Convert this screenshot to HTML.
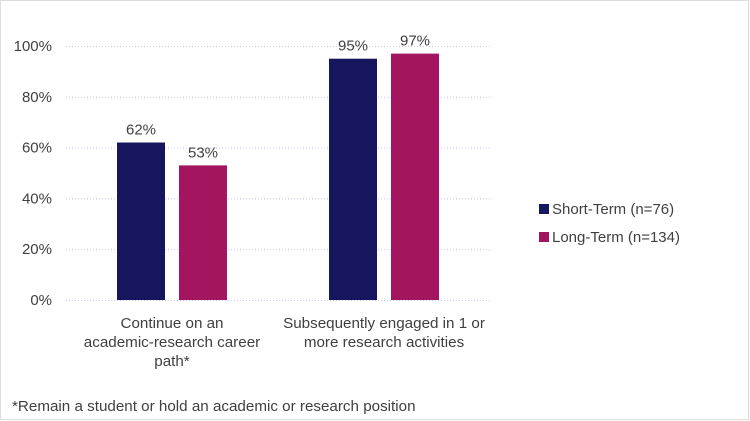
<!DOCTYPE html>
<html><head><meta charset="utf-8"><style>
body{margin:0;background:#fff}
svg{display:block;font-family:"Liberation Sans",sans-serif}
</style></head><body>
<svg id="c" width="750" height="421">
<rect x="0.5" y="0.5" width="748" height="419" fill="#fff" stroke="#bbb" stroke-dasharray="1,1"/>
<g id="grid"></g><g id="bars"></g><g id="labels"></g>
<g>
<rect x="539" y="204" width="10" height="10" fill="#16165e"/>
<text x="552" y="214" font-size="15" fill="#404040">Short-Term (n=76)</text>
<rect x="539" y="232" width="10" height="10" fill="#a3155f"/>
<text x="552" y="242" font-size="15" fill="#404040">Long-Term (n=134)</text>
</g>
<text x="12" y="411" font-size="15.2" fill="#404040">*Remain a student or hold an academic or research position</text>
</svg>
<script>
const categories=[["Continue on an","academic-research career","path*"],["Subsequently engaged in 1 or","more research activities"]];
const shortTerm=[62,95];
const longTerm=[53,97];
const ticks=[0,20,40,60,80,100];
const ns="http://www.w3.org/2000/svg";
const x0=66,x1=490,yTop=46,yBot=300;
const y=v=>yBot-(yBot-yTop)*v/100;
const bandW=(x1-x0)/categories.length;
const cx=i=>x0+bandW*(i+0.5);
function mk(t,a,p,txt){const e=document.createElementNS(ns,t);for(const k in a)e.setAttribute(k,a[k]);if(txt!==undefined)e.textContent=txt;p.appendChild(e);return e;}
const g=document.getElementById('grid'),b=document.getElementById('bars'),l=document.getElementById('labels');
ticks.forEach(t=>{
 const ln=mk('line',{x1:x0,x2:x1,y1:y(t)+0.5,y2:y(t)+0.5,stroke:'#c8c8f0','stroke-dasharray':'1,2'},g);
 
 
 const tx=mk('text',{x:52,y:y(t)+5,'text-anchor':'end','font-size':15,fill:'#404040'},g,t+'%');
 
 
});
const bw=48,gap=14;
[[shortTerm,'#16165e','short'],[longTerm,'#a3155f','long']].forEach(([s,col,n],si)=>{
 s.forEach((v,i)=>{
  const x=si==0?cx(i)-gap/2-bw:cx(i)+gap/2;
  const r=mk('rect',{x:x,y:y(v),width:bw,height:yBot-y(v),fill:col},b);
  
  
  const t=mk('text',{x:x+bw/2,y:y(v)-8,'text-anchor':'middle','font-size':15,fill:'#404040'},l,v+'%');
  
  
 });
});
categories.forEach((lines,i)=>{
 lines.forEach((s,j)=>{
  const t=mk('text',{x:cx(i),y:328+j*19,'text-anchor':'middle','font-size':15.2,fill:'#404040'},l,s);
  
  
 });
});
</script>
</body></html>
